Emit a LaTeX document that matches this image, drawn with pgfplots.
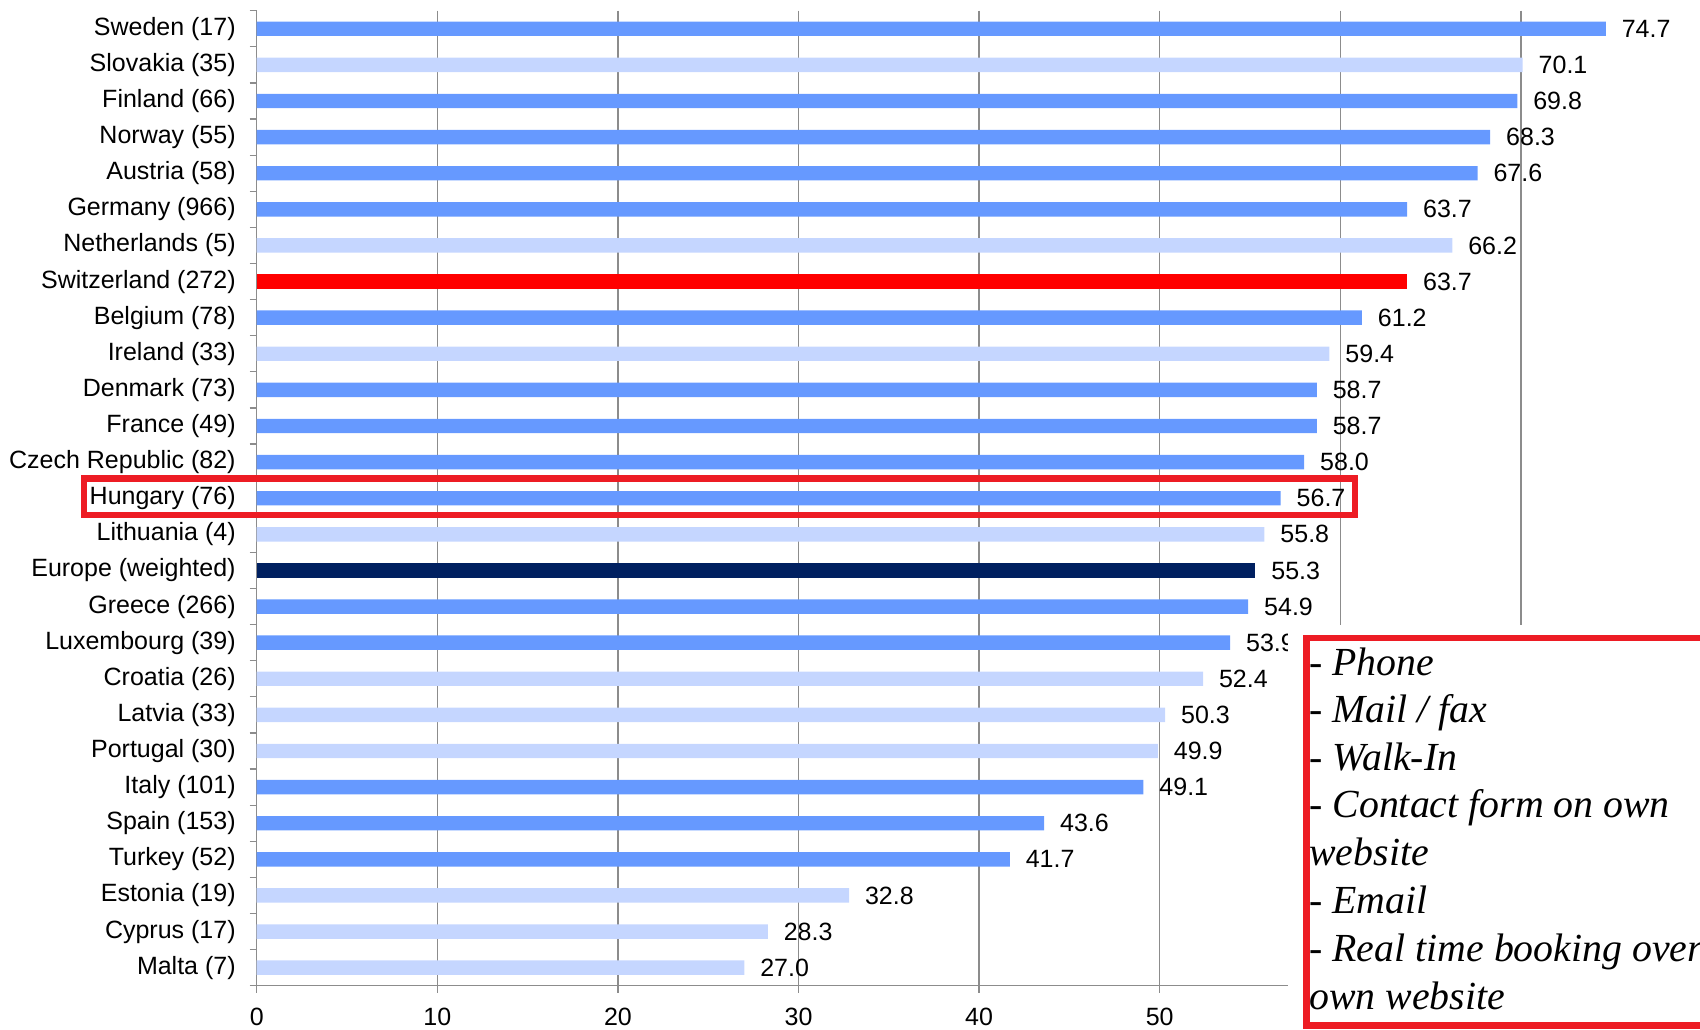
\documentclass[border=0pt]{standalone}
\usepackage{pgfplots}
\pgfplotsset{compat=1.18}
\usepackage{fontspec}
\setmainfont{Liberation Sans}
\newfontfamily\boxfont{Liberation Serif}
\definecolor{midblue}{HTML}{6699FF}
\definecolor{lightblue}{HTML}{C5D6FF}
\definecolor{navy}{HTML}{002060}
\definecolor{boxred}{HTML}{ED1C24}
\definecolor{gridgray}{HTML}{8C8C8C}

\begin{document}
\begin{tikzpicture}
\begin{axis}[
  at={(128.35pt,21.65pt)}, anchor=south west,
  scale only axis, width=722.4pt, height=487.5pt,
  xmin=0, xmax=80, ymin=-0.5, ymax=26.5, y dir=reverse,
  xbar, bar width=7.2pt, bar shift=0pt,
  axis x line*=bottom, axis y line*=left,
  axis line style={gridgray, line width=0.65pt},
  xtick={0,10,...,70},
  ytick={0,...,26},
  yticklabels={Sweden (17), Slovakia (35), Finland (66), Norway (55), Austria (58),
    Germany (966), Netherlands (5), Switzerland (272), Belgium (78), Ireland (33),
    Denmark (73), France (49), Czech Republic (82), Hungary (76), Lithuania (4),
    Europe (weighted), Greece (266), Luxembourg (39), Croatia (26), Latvia (33),
    Portugal (30), Italy (101), Spain (153), Turkey (52), Estonia (19),
    Cyprus (17), Malta (7)},
  minor ytick={-0.5,0.5,...,26.5},
  tick align=outside,
  major tick length=3.5pt, minor tick length=3.5pt,
  major y tick style={draw=none},
  minor y tick style={gridgray, line width=0.65pt},
  major x tick style={gridgray, line width=0.65pt},
  xmajorgrids, major x grid style={gridgray, line width=0.65pt},
  tick label style={font=\fontsize{12.5}{14}\selectfont},
  yticklabel style={xshift=-3.5pt},
  xticklabel style={inner sep=0pt, yshift=-7.5pt},
  /pgf/number format/assume math mode=true,
  clip=false,
  point meta=x,
  nodes near coords={\pgfmathprintnumber[fixed,fixed zerofill,precision=1]{\pgfplotspointmeta}},
  every node near coord/.append style={font=\fontsize{12.5}{14}\selectfont,
    anchor=west, inner sep=0pt, xshift=7.8pt, black},
]
\addplot[fill=midblue, draw=none] coordinates {
  (74.7,0) (69.8,2) (68.3,3) (67.6,4) (63.7,5) (61.2,8) (58.7,10) (58.7,11)
  (58.0,12) (56.7,13) (54.9,16) (53.9,17) (49.1,21) (43.6,22) (41.7,23)};
\addplot[fill=lightblue, draw=none] coordinates {
  (70.1,1) (66.2,6) (59.4,9) (55.8,14) (52.4,18) (50.3,19) (49.9,20)
  (32.8,24) (28.3,25) (27.0,26)};
\addplot[fill=red, draw=none] coordinates {(63.7,7)};
\addplot[fill=navy, draw=none] coordinates {(55.3,15)};
\end{axis}

% Hungary highlight
\draw[boxred, line width=3.3pt] (42pt,257pt) rectangle (677.5pt,275.35pt);

% pasted note box
\fill[white] (644pt,0pt) rectangle (870pt,202pt);
\begin{scope}[every node/.style={anchor=base west, inner sep=0pt,
    font=\boxfont\itshape\fontsize{19.9}{23.85}\selectfont}]
  \node at (654.5pt,177pt)   {- Phone};
  \node at (654.5pt,153.25pt){- Mail / fax};
  \node at (654.5pt,129.5pt) {- Walk-In};
  \node at (654.5pt,105.75pt){- Contact form on own};
  \node at (654.5pt,82pt)    {website};
  \node at (654.5pt,58pt)    {- Email};
  \node at (654.5pt,34pt)    {- Real time booking over};
  \node at (654.5pt,10pt)    {own website};
\end{scope}
\draw[boxred, line width=3.3pt] (653.35pt,1.75pt) rectangle (880pt,195.5pt);

\pgfresetboundingbox
\useasboundingbox (0,0) rectangle (850pt,514.5pt);
\end{tikzpicture}
\end{document}
